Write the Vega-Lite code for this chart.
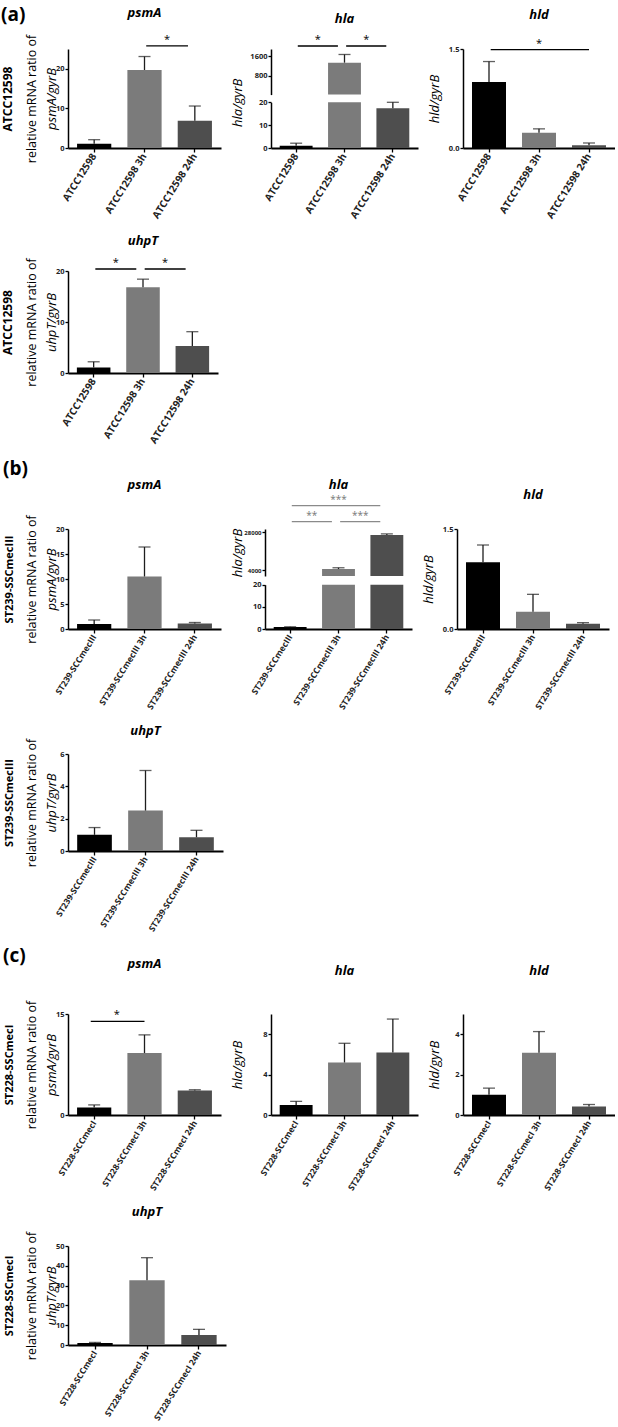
{
  "$schema": "https://vega.github.io/schema/vega-lite/v6.json",
  "padding": {"left": 1, "top": 5, "right": 0, "bottom": 0},
  "spacing": 14,
  "datasets": {
    "bars": [
      {"set": "a", "gene": "psmA", "sample": "ATCC12598", "group": "control", "mean": 1.1, "upper": 2.1},
      {"set": "a", "gene": "psmA", "sample": "ATCC12598 3h", "group": "3h", "mean": 19.7, "upper": 23.1},
      {"set": "a", "gene": "psmA", "sample": "ATCC12598 24h", "group": "24h", "mean": 6.9, "upper": 10.6},
      {"set": "a", "gene": "hla", "sample": "ATCC12598", "group": "control", "mean": 1.0, "upper": 2.1},
      {"set": "a", "gene": "hla", "sample": "ATCC12598 3h", "group": "3h", "mean": 1337, "upper": 1667},
      {"set": "a", "gene": "hla", "sample": "ATCC12598 24h", "group": "24h", "mean": 17.4, "upper": 20},
      {"set": "a", "gene": "hld", "sample": "ATCC12598", "group": "control", "mean": 1.0, "upper": 1.31},
      {"set": "a", "gene": "hld", "sample": "ATCC12598 3h", "group": "3h", "mean": 0.23, "upper": 0.29},
      {"set": "a", "gene": "hld", "sample": "ATCC12598 24h", "group": "24h", "mean": 0.04, "upper": 0.076},
      {"set": "a", "gene": "uhpT", "sample": "ATCC12598", "group": "control", "mean": 1.1, "upper": 2.2},
      {"set": "a", "gene": "uhpT", "sample": "ATCC12598 3h", "group": "3h", "mean": 16.8, "upper": 18.4},
      {"set": "a", "gene": "uhpT", "sample": "ATCC12598 24h", "group": "24h", "mean": 5.3, "upper": 8.1},
      {"set": "b", "gene": "psmA", "sample": "ST239-SCCmecIII", "group": "control", "mean": 1.0, "upper": 1.8},
      {"set": "b", "gene": "psmA", "sample": "ST239-SCCmecIII 3h", "group": "3h", "mean": 10.5, "upper": 16.4},
      {"set": "b", "gene": "psmA", "sample": "ST239-SCCmecIII 24h", "group": "24h", "mean": 1.1, "upper": 1.3},
      {"set": "b", "gene": "hla", "sample": "ST239-SCCmecIII", "group": "control", "mean": 0.9, "upper": 1.0},
      {"set": "b", "gene": "hla", "sample": "ST239-SCCmecIII 3h", "group": "3h", "mean": 4800, "upper": 5600},
      {"set": "b", "gene": "hla", "sample": "ST239-SCCmecIII 24h", "group": "24h", "mean": 26300, "upper": 27000},
      {"set": "b", "gene": "hld", "sample": "ST239-SCCmecIII", "group": "control", "mean": 1.0, "upper": 1.26},
      {"set": "b", "gene": "hld", "sample": "ST239-SCCmecIII 3h", "group": "3h", "mean": 0.26, "upper": 0.52},
      {"set": "b", "gene": "hld", "sample": "ST239-SCCmecIII 24h", "group": "24h", "mean": 0.08, "upper": 0.095},
      {"set": "b", "gene": "uhpT", "sample": "ST239-SCCmecIII", "group": "control", "mean": 1.0, "upper": 1.45},
      {"set": "b", "gene": "uhpT", "sample": "ST239-SCCmecIII 3h", "group": "3h", "mean": 2.5, "upper": 4.98},
      {"set": "b", "gene": "uhpT", "sample": "ST239-SCCmecIII 24h", "group": "24h", "mean": 0.85, "upper": 1.28},
      {"set": "c", "gene": "psmA", "sample": "ST228-SCCmecI", "group": "control", "mean": 1.1, "upper": 1.5},
      {"set": "c", "gene": "psmA", "sample": "ST228-SCCmecI 3h", "group": "3h", "mean": 9.2, "upper": 11.9},
      {"set": "c", "gene": "psmA", "sample": "ST228-SCCmecI 24h", "group": "24h", "mean": 3.65, "upper": 3.75},
      {"set": "c", "gene": "hla", "sample": "ST228-SCCmecI", "group": "control", "mean": 1.0, "upper": 1.35},
      {"set": "c", "gene": "hla", "sample": "ST228-SCCmecI 3h", "group": "3h", "mean": 5.2, "upper": 7.1},
      {"set": "c", "gene": "hla", "sample": "ST228-SCCmecI 24h", "group": "24h", "mean": 6.2, "upper": 9.5},
      {"set": "c", "gene": "hld", "sample": "ST228-SCCmecI", "group": "control", "mean": 1.0, "upper": 1.33},
      {"set": "c", "gene": "hld", "sample": "ST228-SCCmecI 3h", "group": "3h", "mean": 3.08, "upper": 4.13},
      {"set": "c", "gene": "hld", "sample": "ST228-SCCmecI 24h", "group": "24h", "mean": 0.42, "upper": 0.52},
      {"set": "c", "gene": "uhpT", "sample": "ST228-SCCmecI", "group": "control", "mean": 1.0, "upper": 1.3},
      {"set": "c", "gene": "uhpT", "sample": "ST228-SCCmecI 3h", "group": "3h", "mean": 32.7, "upper": 44.1},
      {"set": "c", "gene": "uhpT", "sample": "ST228-SCCmecI 24h", "group": "24h", "mean": 5.0, "upper": 7.9}
    ],
    "sig": [
      {"set": "a", "gene": "psmA", "from": "ATCC12598 3h", "to": "ATCC12598 24h", "y": 25.8, "star": "*"},
      {"set": "a", "gene": "hla", "from": "ATCC12598", "to": "ATCC12598 3h", "y": 2010, "star": "*"},
      {"set": "a", "gene": "hla", "from": "ATCC12598 3h", "to": "ATCC12598 24h", "y": 2010, "star": "*"},
      {"set": "a", "gene": "hld", "from": "ATCC12598", "to": "ATCC12598 24h", "y": 1.49, "star": "*"},
      {"set": "a", "gene": "uhpT", "from": "ATCC12598", "to": "ATCC12598 3h", "y": 20.4, "star": "*"},
      {"set": "a", "gene": "uhpT", "from": "ATCC12598 3h", "to": "ATCC12598 24h", "y": 20.4, "star": "*"},
      {"set": "b", "gene": "hla", "from": "ST239-SCCmecIII", "to": "ST239-SCCmecIII 3h", "y": 34700, "star": "**"},
      {"set": "b", "gene": "hla", "from": "ST239-SCCmecIII 3h", "to": "ST239-SCCmecIII 24h", "y": 34700, "star": "***"},
      {"set": "b", "gene": "hla", "from": "ST239-SCCmecIII", "to": "ST239-SCCmecIII 24h", "y": 44800, "star": "***"},
      {"set": "c", "gene": "psmA", "from": "ST228-SCCmecI", "to": "ST228-SCCmecI 3h", "y": 13.9, "star": "*"}
    ]
  },
  "vconcat": [
    {
      "title": {"text": "(a)", "anchor": "start", "frame": "bounds", "fontSize": 19, "fontStyle": "normal", "offset": -18},
      "spacing": 10,
      "hconcat": [
        {
          "width": 153, "height": 99,
          "title": {"text": "psmA", "offset": 14},
          "resolve": {"axis": {"y": "independent"}},
          "layer": [
            {"layer": [
              {"data": {"name": "bars"}, "transform": [{"filter": "datum.set == 'a' && datum.gene == 'psmA'"}],
               "mark": "bar",
               "encoding": {
                 "x": {"field": "sample", "type": "nominal", "title": null, "scale": {"domain": ["ATCC12598", "ATCC12598 3h", "ATCC12598 24h"], "paddingInner": 0.32, "paddingOuter": 0.18}},
                 "y": {"field": "mean", "type": "quantitative", "scale": {"domain": [0, 25], "nice": false}, "axis": {"orient": "left", "values": [0, 5, 10, 15, 20, 25], "labelOverlap": false, "title": "psmA/gyrB", "minExtent": 10, "maxExtent": 10, "titlePadding": 0}},
                 "color": {"field": "group", "type": "nominal", "legend": null, "scale": {"domain": ["control", "3h", "24h"], "range": ["#000000", "#7b7b7b", "#4e4e4e"]}}}},
              {"data": {"name": "sig"}, "transform": [{"filter": "datum.set == 'a' && datum.gene == 'psmA'"}],
               "mark": {"type": "rule", "color": "#000", "strokeWidth": 1.4},
               "encoding": {"x": {"field": "from", "type": "nominal", "bandPosition": 0.55}, "x2": {"field": "to", "bandPosition": 0.3}, "y": {"field": "y", "type": "quantitative"}}},
              {"data": {"name": "sig"}, "transform": [{"filter": "datum.set == 'a' && datum.gene == 'psmA'"}],
               "mark": {"type": "text", "baseline": "bottom", "dy": -1, "fontSize": 11},
               "encoding": {"x": {"field": "from", "type": "nominal", "bandPosition": 1.16}, "y": {"field": "y", "type": "quantitative"}, "text": {"field": "star"}}}
            ]},
            {"data": {"name": "bars"}, "transform": [{"filter": "datum.set == 'a' && datum.gene == 'psmA'"}],
             "mark": {"type": "rule", "color": "#1e1e1e", "strokeWidth": 1.3},
             "encoding": {"x": {"field": "sample", "type": "nominal"},
               "y": {"field": "mean", "type": "quantitative", "axis": {"orient": "left", "title": "relative mRNA ratio of", "labels": false, "ticks": false, "domain": false, "minExtent": 0, "maxExtent": 0, "titlePadding": 30, "titleFontStyle": "normal", "titleFontSize": 12.5}},
               "y2": {"field": "upper"}}},
            {"data": {"name": "bars"}, "transform": [{"filter": "datum.set == 'a' && datum.gene == 'psmA'"}],
             "mark": {"type": "tick", "color": "#1e1e1e", "thickness": 1.3, "size": 12},
             "encoding": {"x": {"field": "sample", "type": "nominal"},
               "y": {"field": "upper", "type": "quantitative", "axis": {"orient": "left", "title": "ATCC12598", "labels": false, "ticks": false, "domain": false, "minExtent": 0, "maxExtent": 0, "titlePadding": 54, "titleFontStyle": "normal", "titleFontWeight": "bold", "titleFontSize": 12}}}}
          ]
        },
        {
          "width": 147, "height": 99,
          "title": {"text": "hla", "offset": 8},
          "resolve": {"scale": {"y": "independent"}},
          "layer": [
            {"layer": [
              {"data": {"name": "bars"}, "transform": [{"filter": "datum.set == 'a' && datum.gene == 'hla'"}],
               "mark": "bar",
               "encoding": {
                 "x": {"field": "sample", "type": "nominal", "title": null, "scale": {"domain": ["ATCC12598", "ATCC12598 3h", "ATCC12598 24h"], "paddingInner": 0.32, "paddingOuter": 0.18}},
                 "y": {"field": "mean", "type": "quantitative", "scale": {"domain": [0, 20], "range": [99, 53.3], "clamp": true, "nice": false}, "axis": {"orient": "left", "values": [0, 5, 10, 15, 20], "labelOverlap": false, "title": "hla/gyrB", "titleAnchor": "end", "titleAlign": "center", "titlePadding": 13}},
                 "color": {"field": "group", "type": "nominal", "legend": null, "scale": {"domain": ["control", "3h", "24h"], "range": ["#000000", "#7b7b7b", "#4e4e4e"]}}}},
              {"data": {"name": "bars"}, "transform": [{"filter": "datum.set == 'a' && datum.gene == 'hla' && datum.mean <= 20"}],
               "mark": {"type": "rule", "color": "#1e1e1e", "strokeWidth": 1.3},
               "encoding": {"x": {"field": "sample", "type": "nominal"}, "y": {"field": "mean", "type": "quantitative"}, "y2": {"field": "upper"}}},
              {"data": {"name": "bars"}, "transform": [{"filter": "datum.set == 'a' && datum.gene == 'hla' && datum.mean <= 20"}],
               "mark": {"type": "tick", "color": "#1e1e1e", "thickness": 1.3, "size": 12},
               "encoding": {"x": {"field": "sample", "type": "nominal"}, "y": {"field": "upper", "type": "quantitative"}}}
            ]},
            {"layer": [
              {"data": {"name": "bars"}, "transform": [{"filter": "datum.set == 'a' && datum.gene == 'hla' && datum.mean > 20"}],
               "mark": "bar",
               "encoding": {
                 "x": {"field": "sample", "type": "nominal", "title": null, "scale": {"domain": ["ATCC12598", "ATCC12598 3h", "ATCC12598 24h"], "paddingInner": 0.32, "paddingOuter": 0.18}},
                 "y": {"field": "mean", "type": "quantitative", "scale": {"domain": [50, 1888], "range": [45.6, 0], "nice": false, "zero": false}, "axis": {"orient": "left", "values": [800, 1600], "format": "d", "labelOverlap": false, "title": null}},
                 "y2": {"datum": 50},
                 "color": {"field": "group", "type": "nominal", "legend": null, "scale": {"domain": ["control", "3h", "24h"], "range": ["#000000", "#7b7b7b", "#4e4e4e"]}}}},
              {"data": {"name": "bars"}, "transform": [{"filter": "datum.set == 'a' && datum.gene == 'hla' && datum.mean > 20"}],
               "mark": {"type": "rule", "color": "#1e1e1e", "strokeWidth": 1.3},
               "encoding": {"x": {"field": "sample", "type": "nominal"}, "y": {"field": "mean", "type": "quantitative"}, "y2": {"field": "upper"}}},
              {"data": {"name": "bars"}, "transform": [{"filter": "datum.set == 'a' && datum.gene == 'hla' && datum.mean > 20"}],
               "mark": {"type": "tick", "color": "#1e1e1e", "thickness": 1.3, "size": 12},
               "encoding": {"x": {"field": "sample", "type": "nominal"}, "y": {"field": "upper", "type": "quantitative"}}},
              {"data": {"name": "sig"}, "transform": [{"filter": "datum.set == 'a' && datum.gene == 'hla'"}],
               "mark": {"type": "rule", "color": "#000", "strokeWidth": 1.4},
               "encoding": {"x": {"field": "from", "type": "nominal", "bandPosition": 0.55}, "x2": {"field": "to", "bandPosition": 0.3}, "y": {"field": "y", "type": "quantitative"}}},
              {"data": {"name": "sig"}, "transform": [{"filter": "datum.set == 'a' && datum.gene == 'hla'"}],
               "mark": {"type": "text", "baseline": "bottom", "dy": -1, "fontSize": 11},
               "encoding": {"x": {"field": "from", "type": "nominal", "bandPosition": 1.16}, "y": {"field": "y", "type": "quantitative"}, "text": {"field": "star"}}}
            ]}
          ]
        },
        {
          "width": 152, "height": 99,
          "title": {"text": "hld", "offset": 16},
          "layer": [
            {"data": {"name": "bars"}, "transform": [{"filter": "datum.set == 'a' && datum.gene == 'hld'"}],
             "mark": "bar",
             "encoding": {
               "x": {"field": "sample", "type": "nominal", "title": null, "scale": {"domain": ["ATCC12598", "ATCC12598 3h", "ATCC12598 24h"], "paddingInner": 0.32, "paddingOuter": 0.18}},
               "y": {"field": "mean", "type": "quantitative", "scale": {"domain": [0, 1.5], "nice": false}, "axis": {"values": [0, 0.5, 1, 1.5], "format": ".1f", "labelOverlap": false, "title": "hld/gyrB", "titlePadding": 8}},
               "color": {"field": "group", "type": "nominal", "legend": null, "scale": {"domain": ["control", "3h", "24h"], "range": ["#000000", "#7b7b7b", "#4e4e4e"]}}}},
            {"data": {"name": "bars"}, "transform": [{"filter": "datum.set == 'a' && datum.gene == 'hld'"}],
             "mark": {"type": "rule", "color": "#1e1e1e", "strokeWidth": 1.3},
             "encoding": {"x": {"field": "sample", "type": "nominal"}, "y": {"field": "mean", "type": "quantitative"}, "y2": {"field": "upper"}}},
            {"data": {"name": "bars"}, "transform": [{"filter": "datum.set == 'a' && datum.gene == 'hld'"}],
             "mark": {"type": "tick", "color": "#1e1e1e", "thickness": 1.3, "size": 12},
             "encoding": {"x": {"field": "sample", "type": "nominal"}, "y": {"field": "upper", "type": "quantitative"}}},
            {"data": {"name": "sig"}, "transform": [{"filter": "datum.set == 'a' && datum.gene == 'hld'"}],
             "mark": {"type": "rule", "color": "#000", "strokeWidth": 1.4},
             "encoding": {"x": {"field": "from", "type": "nominal", "bandPosition": 0.55}, "x2": {"field": "to", "bandPosition": 0.5}, "y": {"field": "y", "type": "quantitative"}}},
            {"data": {"name": "sig"}, "transform": [{"filter": "datum.set == 'a' && datum.gene == 'hld'"}],
             "mark": {"type": "text", "baseline": "bottom", "dy": -1, "fontSize": 11},
             "encoding": {"x": {"datum": "ATCC12598 3h", "type": "nominal"}, "y": {"field": "y", "type": "quantitative"}, "text": {"field": "star"}}}
          ]
        }
      ]
    },
    {
      "width": 150, "height": 102,
      "title": {"text": "uhpT", "offset": 9},
      "resolve": {"axis": {"y": "independent"}},
      "layer": [
        {"layer": [
          {"data": {"name": "bars"}, "transform": [{"filter": "datum.set == 'a' && datum.gene == 'uhpT'"}],
           "mark": "bar",
           "encoding": {
             "x": {"field": "sample", "type": "nominal", "title": null, "scale": {"domain": ["ATCC12598", "ATCC12598 3h", "ATCC12598 24h"], "paddingInner": 0.32, "paddingOuter": 0.18}},
             "y": {"field": "mean", "type": "quantitative", "scale": {"domain": [0, 20], "nice": false}, "axis": {"orient": "left", "values": [0, 5, 10, 15, 20], "labelOverlap": false, "title": "uhpT/gyrB", "minExtent": 10, "maxExtent": 10, "titlePadding": 0}},
             "color": {"field": "group", "type": "nominal", "legend": null, "scale": {"domain": ["control", "3h", "24h"], "range": ["#000000", "#7b7b7b", "#4e4e4e"]}}}},
          {"data": {"name": "sig"}, "transform": [{"filter": "datum.set == 'a' && datum.gene == 'uhpT'"}],
           "mark": {"type": "rule", "color": "#000", "strokeWidth": 1.4},
           "encoding": {"x": {"field": "from", "type": "nominal", "bandPosition": 0.55}, "x2": {"field": "to", "bandPosition": 0.3}, "y": {"field": "y", "type": "quantitative"}}},
          {"data": {"name": "sig"}, "transform": [{"filter": "datum.set == 'a' && datum.gene == 'uhpT'"}],
           "mark": {"type": "text", "baseline": "bottom", "dy": -1, "fontSize": 11},
           "encoding": {"x": {"field": "from", "type": "nominal", "bandPosition": 1.16}, "y": {"field": "y", "type": "quantitative"}, "text": {"field": "star"}}}
        ]},
        {"data": {"name": "bars"}, "transform": [{"filter": "datum.set == 'a' && datum.gene == 'uhpT'"}],
         "mark": {"type": "rule", "color": "#1e1e1e", "strokeWidth": 1.3},
         "encoding": {"x": {"field": "sample", "type": "nominal"},
           "y": {"field": "mean", "type": "quantitative", "axis": {"orient": "left", "title": "relative mRNA ratio of", "labels": false, "ticks": false, "domain": false, "minExtent": 0, "maxExtent": 0, "titlePadding": 30, "titleFontStyle": "normal", "titleFontSize": 12.5}},
           "y2": {"field": "upper"}}},
        {"data": {"name": "bars"}, "transform": [{"filter": "datum.set == 'a' && datum.gene == 'uhpT'"}],
         "mark": {"type": "tick", "color": "#1e1e1e", "thickness": 1.3, "size": 12},
         "encoding": {"x": {"field": "sample", "type": "nominal"},
           "y": {"field": "upper", "type": "quantitative", "axis": {"orient": "left", "title": "ATCC12598", "labels": false, "ticks": false, "domain": false, "minExtent": 0, "maxExtent": 0, "titlePadding": 54, "titleFontStyle": "normal", "titleFontWeight": "bold", "titleFontSize": 12}}}}
      ]
    },
    {
      "title": {"text": "(b)", "anchor": "start", "frame": "bounds", "fontSize": 19, "fontStyle": "normal", "offset": 0},
      "spacing": 10,
      "hconcat": [
        {
          "width": 153, "height": 100,
          "title": {"text": "psmA", "offset": 23},
          "resolve": {"axis": {"y": "independent"}},
          "layer": [
            {"data": {"name": "bars"}, "transform": [{"filter": "datum.set == 'b' && datum.gene == 'psmA'"}],
             "mark": "bar",
             "encoding": {
               "x": {"field": "sample", "type": "nominal", "title": null, "axis": {"labelFontSize": 8.5}, "scale": {"domain": ["ST239-SCCmecIII", "ST239-SCCmecIII 3h", "ST239-SCCmecIII 24h"], "paddingInner": 0.32, "paddingOuter": 0.18}},
               "y": {"field": "mean", "type": "quantitative", "scale": {"domain": [0, 20], "nice": false}, "axis": {"orient": "left", "values": [0, 5, 10, 15, 20], "labelOverlap": false, "title": "psmA/gyrB", "minExtent": 10, "maxExtent": 10, "titlePadding": 0}},
               "color": {"field": "group", "type": "nominal", "legend": null, "scale": {"domain": ["control", "3h", "24h"], "range": ["#000000", "#7b7b7b", "#4e4e4e"]}}}},
            {"data": {"name": "bars"}, "transform": [{"filter": "datum.set == 'b' && datum.gene == 'psmA'"}],
             "mark": {"type": "rule", "color": "#1e1e1e", "strokeWidth": 1.3},
             "encoding": {"x": {"field": "sample", "type": "nominal"},
               "y": {"field": "mean", "type": "quantitative", "axis": {"orient": "left", "title": "relative mRNA ratio of", "labels": false, "ticks": false, "domain": false, "minExtent": 0, "maxExtent": 0, "titlePadding": 30, "titleFontStyle": "normal", "titleFontSize": 12.5}},
               "y2": {"field": "upper"}}},
            {"data": {"name": "bars"}, "transform": [{"filter": "datum.set == 'b' && datum.gene == 'psmA'"}],
             "mark": {"type": "tick", "color": "#1e1e1e", "thickness": 1.3, "size": 12},
             "encoding": {"x": {"field": "sample", "type": "nominal"},
               "y": {"field": "upper", "type": "quantitative", "axis": {"orient": "left", "title": "ST239-SSCmecIII", "labels": false, "ticks": false, "domain": false, "minExtent": 0, "maxExtent": 0, "titlePadding": 54, "titleFontStyle": "normal", "titleFontWeight": "bold", "titleFontSize": 11}}}}
          ]
        },
        {
          "width": 147, "height": 100,
          "title": {"text": "hla", "offset": 3},
          "resolve": {"scale": {"y": "independent"}},
          "layer": [
            {"layer": [
              {"data": {"name": "bars"}, "transform": [{"filter": "datum.set == 'b' && datum.gene == 'hla'"}],
               "mark": "bar",
               "encoding": {
                 "x": {"field": "sample", "type": "nominal", "title": null, "axis": {"labelFontSize": 8.5}, "scale": {"domain": ["ST239-SCCmecIII", "ST239-SCCmecIII 3h", "ST239-SCCmecIII 24h"], "paddingInner": 0.32, "paddingOuter": 0.18}},
                 "y": {"field": "mean", "type": "quantitative", "scale": {"domain": [0, 20], "range": [100, 55.7], "clamp": true, "nice": false}, "axis": {"orient": "left", "values": [0, 5, 10, 15, 20], "labelOverlap": false, "title": null}},
                 "color": {"field": "group", "type": "nominal", "legend": null, "scale": {"domain": ["control", "3h", "24h"], "range": ["#000000", "#7b7b7b", "#4e4e4e"]}}}},
              {"data": {"name": "bars"}, "transform": [{"filter": "datum.set == 'b' && datum.gene == 'hla' && datum.mean <= 20"}],
               "mark": {"type": "rule", "color": "#1e1e1e", "strokeWidth": 1.3},
               "encoding": {"x": {"field": "sample", "type": "nominal"}, "y": {"field": "mean", "type": "quantitative"}, "y2": {"field": "upper"}}},
              {"data": {"name": "bars"}, "transform": [{"filter": "datum.set == 'b' && datum.gene == 'hla' && datum.mean <= 20"}],
               "mark": {"type": "tick", "color": "#1e1e1e", "thickness": 1.3, "size": 12},
               "encoding": {"x": {"field": "sample", "type": "nominal"}, "y": {"field": "upper", "type": "quantitative"}}}
            ]},
            {"layer": [
              {"data": {"name": "bars"}, "transform": [{"filter": "datum.set == 'b' && datum.gene == 'hla' && datum.mean > 20"}],
               "mark": "bar",
               "encoding": {
                 "x": {"field": "sample", "type": "nominal", "title": null, "axis": {"labelFontSize": 8.5}, "scale": {"domain": ["ST239-SCCmecIII", "ST239-SCCmecIII 3h", "ST239-SCCmecIII 24h"], "paddingInner": 0.32, "paddingOuter": 0.18}},
                 "y": {"field": "mean", "type": "quantitative", "scale": {"domain": [400, 30084], "range": [47, 0], "nice": false, "zero": false}, "axis": {"orient": "left", "values": [4000, 8000, 12000, 16000, 20000, 24000, 28000], "format": "d", "labelOverlap": false, "labelFontSize": 6, "title": "hla/gyrB", "titlePadding": 7}},
                 "y2": {"datum": 400},
                 "color": {"field": "group", "type": "nominal", "legend": null, "scale": {"domain": ["control", "3h", "24h"], "range": ["#000000", "#7b7b7b", "#4e4e4e"]}}}},
              {"data": {"name": "bars"}, "transform": [{"filter": "datum.set == 'b' && datum.gene == 'hla' && datum.mean > 20"}],
               "mark": {"type": "rule", "color": "#1e1e1e", "strokeWidth": 1.3},
               "encoding": {"x": {"field": "sample", "type": "nominal"}, "y": {"field": "mean", "type": "quantitative"}, "y2": {"field": "upper"}}},
              {"data": {"name": "bars"}, "transform": [{"filter": "datum.set == 'b' && datum.gene == 'hla' && datum.mean > 20"}],
               "mark": {"type": "tick", "color": "#1e1e1e", "thickness": 1.3, "size": 12},
               "encoding": {"x": {"field": "sample", "type": "nominal"}, "y": {"field": "upper", "type": "quantitative"}}},
              {"data": {"name": "sig"}, "transform": [{"filter": "datum.set == 'b' && datum.gene == 'hla'"}],
               "mark": {"type": "rule", "color": "#8a8a8a", "strokeWidth": 1.3},
               "encoding": {"x": {"field": "from", "type": "nominal", "bandPosition": 0.55}, "x2": {"field": "to", "bandPosition": 0.3}, "y": {"field": "y", "type": "quantitative"}}},
              {"data": {"name": "sig"}, "transform": [{"filter": "datum.set == 'b' && datum.gene == 'hla' && datum.y < 40000"}],
               "mark": {"type": "text", "baseline": "bottom", "dy": -1, "fontSize": 10, "color": "#777"},
               "encoding": {"x": {"field": "from", "type": "nominal", "bandPosition": 1.16}, "y": {"field": "y", "type": "quantitative"}, "text": {"field": "star"}}},
              {"data": {"name": "sig"}, "transform": [{"filter": "datum.set == 'b' && datum.gene == 'hla' && datum.y > 40000"}],
               "mark": {"type": "text", "baseline": "bottom", "dy": -1, "fontSize": 10, "color": "#777"},
               "encoding": {"x": {"datum": "ST239-SCCmecIII 3h", "type": "nominal"}, "y": {"field": "y", "type": "quantitative"}, "text": {"field": "star"}}}
            ]}
          ]
        },
        {
          "width": 152, "height": 100,
          "title": {"text": "hld", "offset": 23},
          "layer": [
            {"data": {"name": "bars"}, "transform": [{"filter": "datum.set == 'b' && datum.gene == 'hld'"}],
             "mark": "bar",
             "encoding": {
               "x": {"field": "sample", "type": "nominal", "title": null, "axis": {"labelFontSize": 8.5}, "scale": {"domain": ["ST239-SCCmecIII", "ST239-SCCmecIII 3h", "ST239-SCCmecIII 24h"], "paddingInner": 0.32, "paddingOuter": 0.18}},
               "y": {"field": "mean", "type": "quantitative", "scale": {"domain": [0, 1.5], "nice": false}, "axis": {"values": [0, 0.5, 1, 1.5], "format": ".1f", "labelOverlap": false, "title": "hld/gyrB", "titlePadding": 8}},
               "color": {"field": "group", "type": "nominal", "legend": null, "scale": {"domain": ["control", "3h", "24h"], "range": ["#000000", "#7b7b7b", "#4e4e4e"]}}}},
            {"data": {"name": "bars"}, "transform": [{"filter": "datum.set == 'b' && datum.gene == 'hld'"}],
             "mark": {"type": "rule", "color": "#1e1e1e", "strokeWidth": 1.3},
             "encoding": {"x": {"field": "sample", "type": "nominal"}, "y": {"field": "mean", "type": "quantitative"}, "y2": {"field": "upper"}}},
            {"data": {"name": "bars"}, "transform": [{"filter": "datum.set == 'b' && datum.gene == 'hld'"}],
             "mark": {"type": "tick", "color": "#1e1e1e", "thickness": 1.3, "size": 12},
             "encoding": {"x": {"field": "sample", "type": "nominal"}, "y": {"field": "upper", "type": "quantitative"}}}
          ]
        }
      ]
    },
    {
      "width": 155, "height": 97,
      "title": {"text": "uhpT", "offset": 0},
      "resolve": {"axis": {"y": "independent"}},
      "layer": [
        {"data": {"name": "bars"}, "transform": [{"filter": "datum.set == 'b' && datum.gene == 'uhpT'"}],
         "mark": "bar",
         "encoding": {
           "x": {"field": "sample", "type": "nominal", "title": null, "axis": {"labelFontSize": 8.5}, "scale": {"domain": ["ST239-SCCmecIII", "ST239-SCCmecIII 3h", "ST239-SCCmecIII 24h"], "paddingInner": 0.32, "paddingOuter": 0.18}},
           "y": {"field": "mean", "type": "quantitative", "scale": {"domain": [0, 6], "nice": false}, "axis": {"orient": "left", "values": [0, 2, 4, 6], "labelOverlap": false, "title": "uhpT/gyrB", "minExtent": 10, "maxExtent": 10, "titlePadding": 0}},
           "color": {"field": "group", "type": "nominal", "legend": null, "scale": {"domain": ["control", "3h", "24h"], "range": ["#000000", "#7b7b7b", "#4e4e4e"]}}}},
        {"data": {"name": "bars"}, "transform": [{"filter": "datum.set == 'b' && datum.gene == 'uhpT'"}],
         "mark": {"type": "rule", "color": "#1e1e1e", "strokeWidth": 1.3},
         "encoding": {"x": {"field": "sample", "type": "nominal"},
           "y": {"field": "mean", "type": "quantitative", "axis": {"orient": "left", "title": "relative mRNA ratio of", "labels": false, "ticks": false, "domain": false, "minExtent": 0, "maxExtent": 0, "titlePadding": 30, "titleFontStyle": "normal", "titleFontSize": 12.5}},
           "y2": {"field": "upper"}}},
        {"data": {"name": "bars"}, "transform": [{"filter": "datum.set == 'b' && datum.gene == 'uhpT'"}],
         "mark": {"type": "tick", "color": "#1e1e1e", "thickness": 1.3, "size": 12},
         "encoding": {"x": {"field": "sample", "type": "nominal"},
           "y": {"field": "upper", "type": "quantitative", "axis": {"orient": "left", "title": "ST239-SSCmecIII", "labels": false, "ticks": false, "domain": false, "minExtent": 0, "maxExtent": 0, "titlePadding": 54, "titleFontStyle": "normal", "titleFontWeight": "bold", "titleFontSize": 11}}}}
      ]
    },
    {
      "title": {"text": "(c)", "anchor": "start", "frame": "bounds", "fontSize": 19, "fontStyle": "normal", "offset": -8},
      "spacing": 10,
      "hconcat": [
        {
          "width": 153, "height": 101,
          "title": {"text": "psmA", "offset": 29},
          "resolve": {"axis": {"y": "independent"}},
          "layer": [
            {"layer": [
              {"data": {"name": "bars"}, "transform": [{"filter": "datum.set == 'c' && datum.gene == 'psmA'"}],
               "mark": "bar",
               "encoding": {
                 "x": {"field": "sample", "type": "nominal", "title": null, "axis": {"labelFontSize": 8.5}, "scale": {"domain": ["ST228-SCCmecI", "ST228-SCCmecI 3h", "ST228-SCCmecI 24h"], "paddingInner": 0.32, "paddingOuter": 0.18}},
                 "y": {"field": "mean", "type": "quantitative", "scale": {"domain": [0, 15], "nice": false}, "axis": {"orient": "left", "values": [0, 5, 10, 15], "labelOverlap": false, "title": "psmA/gyrB", "minExtent": 10, "maxExtent": 10, "titlePadding": 0}},
                 "color": {"field": "group", "type": "nominal", "legend": null, "scale": {"domain": ["control", "3h", "24h"], "range": ["#000000", "#7b7b7b", "#4e4e4e"]}}}},
              {"data": {"name": "sig"}, "transform": [{"filter": "datum.set == 'c' && datum.gene == 'psmA'"}],
               "mark": {"type": "rule", "color": "#000", "strokeWidth": 1.4},
               "encoding": {"x": {"field": "from", "type": "nominal", "bandPosition": 0.4}, "x2": {"field": "to", "bandPosition": 0.5}, "y": {"field": "y", "type": "quantitative"}}},
              {"data": {"name": "sig"}, "transform": [{"filter": "datum.set == 'c' && datum.gene == 'psmA'"}],
               "mark": {"type": "text", "baseline": "bottom", "dy": -1, "fontSize": 11, "color": "#000"},
               "encoding": {"x": {"field": "from", "type": "nominal", "bandPosition": 1.16}, "y": {"field": "y", "type": "quantitative"}, "text": {"field": "star"}}}
            ]},
            {"data": {"name": "bars"}, "transform": [{"filter": "datum.set == 'c' && datum.gene == 'psmA'"}],
             "mark": {"type": "rule", "color": "#1e1e1e", "strokeWidth": 1.3},
             "encoding": {"x": {"field": "sample", "type": "nominal"},
               "y": {"field": "mean", "type": "quantitative", "axis": {"orient": "left", "title": "relative mRNA ratio of", "labels": false, "ticks": false, "domain": false, "minExtent": 0, "maxExtent": 0, "titlePadding": 30, "titleFontStyle": "normal", "titleFontSize": 12.5}},
               "y2": {"field": "upper"}}},
            {"data": {"name": "bars"}, "transform": [{"filter": "datum.set == 'c' && datum.gene == 'psmA'"}],
             "mark": {"type": "tick", "color": "#1e1e1e", "thickness": 1.3, "size": 12},
             "encoding": {"x": {"field": "sample", "type": "nominal"},
               "y": {"field": "upper", "type": "quantitative", "axis": {"orient": "left", "title": "ST228-SSCmecI", "labels": false, "ticks": false, "domain": false, "minExtent": 0, "maxExtent": 0, "titlePadding": 54, "titleFontStyle": "normal", "titleFontWeight": "bold", "titleFontSize": 11}}}}
          ]
        },
        {
          "width": 147, "height": 101,
          "title": {"text": "hla", "offset": 36},
          "layer": [
            {"data": {"name": "bars"}, "transform": [{"filter": "datum.set == 'c' && datum.gene == 'hla'"}],
             "mark": "bar",
             "encoding": {
               "x": {"field": "sample", "type": "nominal", "title": null, "axis": {"labelFontSize": 8.5}, "scale": {"domain": ["ST228-SCCmecI", "ST228-SCCmecI 3h", "ST228-SCCmecI 24h"], "paddingInner": 0.32, "paddingOuter": 0.18}},
               "y": {"field": "mean", "type": "quantitative", "scale": {"domain": [0, 10], "nice": false}, "axis": {"values": [0, 2, 4, 6, 8, 10], "labelOverlap": false, "title": "hla/gyrB", "titlePadding": 13}},
               "color": {"field": "group", "type": "nominal", "legend": null, "scale": {"domain": ["control", "3h", "24h"], "range": ["#000000", "#7b7b7b", "#4e4e4e"]}}}},
            {"data": {"name": "bars"}, "transform": [{"filter": "datum.set == 'c' && datum.gene == 'hla'"}],
             "mark": {"type": "rule", "color": "#1e1e1e", "strokeWidth": 1.3},
             "encoding": {"x": {"field": "sample", "type": "nominal"}, "y": {"field": "mean", "type": "quantitative"}, "y2": {"field": "upper"}}},
            {"data": {"name": "bars"}, "transform": [{"filter": "datum.set == 'c' && datum.gene == 'hla'"}],
             "mark": {"type": "tick", "color": "#1e1e1e", "thickness": 1.3, "size": 12},
             "encoding": {"x": {"field": "sample", "type": "nominal"}, "y": {"field": "upper", "type": "quantitative"}}}
          ]
        },
        {
          "width": 152, "height": 101,
          "title": {"text": "hld", "offset": 36},
          "layer": [
            {"data": {"name": "bars"}, "transform": [{"filter": "datum.set == 'c' && datum.gene == 'hld'"}],
             "mark": "bar",
             "encoding": {
               "x": {"field": "sample", "type": "nominal", "title": null, "axis": {"labelFontSize": 8.5}, "scale": {"domain": ["ST228-SCCmecI", "ST228-SCCmecI 3h", "ST228-SCCmecI 24h"], "paddingInner": 0.32, "paddingOuter": 0.18}},
               "y": {"field": "mean", "type": "quantitative", "scale": {"domain": [0, 5], "nice": false}, "axis": {"values": [0, 1, 2, 3, 4, 5], "labelOverlap": false, "title": "hld/gyrB", "titlePadding": 8}},
               "color": {"field": "group", "type": "nominal", "legend": null, "scale": {"domain": ["control", "3h", "24h"], "range": ["#000000", "#7b7b7b", "#4e4e4e"]}}}},
            {"data": {"name": "bars"}, "transform": [{"filter": "datum.set == 'c' && datum.gene == 'hld'"}],
             "mark": {"type": "rule", "color": "#1e1e1e", "strokeWidth": 1.3},
             "encoding": {"x": {"field": "sample", "type": "nominal"}, "y": {"field": "mean", "type": "quantitative"}, "y2": {"field": "upper"}}},
            {"data": {"name": "bars"}, "transform": [{"filter": "datum.set == 'c' && datum.gene == 'hld'"}],
             "mark": {"type": "tick", "color": "#1e1e1e", "thickness": 1.3, "size": 12},
             "encoding": {"x": {"field": "sample", "type": "nominal"}, "y": {"field": "upper", "type": "quantitative"}}}
          ]
        }
      ]
    },
    {
      "width": 158, "height": 99,
      "title": {"text": "uhpT", "offset": 12},
      "resolve": {"axis": {"y": "independent"}},
      "layer": [
        {"data": {"name": "bars"}, "transform": [{"filter": "datum.set == 'c' && datum.gene == 'uhpT'"}],
         "mark": "bar",
         "encoding": {
           "x": {"field": "sample", "type": "nominal", "title": null, "axis": {"labelFontSize": 8.5}, "scale": {"domain": ["ST228-SCCmecI", "ST228-SCCmecI 3h", "ST228-SCCmecI 24h"], "paddingInner": 0.32, "paddingOuter": 0.18}},
           "y": {"field": "mean", "type": "quantitative", "scale": {"domain": [0, 50], "nice": false}, "axis": {"orient": "left", "values": [0, 10, 20, 30, 40, 50], "labelOverlap": false, "title": "uhpT/gyrB", "minExtent": 10, "maxExtent": 10, "titlePadding": 0}},
           "color": {"field": "group", "type": "nominal", "legend": null, "scale": {"domain": ["control", "3h", "24h"], "range": ["#000000", "#7b7b7b", "#4e4e4e"]}}}},
        {"data": {"name": "bars"}, "transform": [{"filter": "datum.set == 'c' && datum.gene == 'uhpT'"}],
         "mark": {"type": "rule", "color": "#1e1e1e", "strokeWidth": 1.3},
         "encoding": {"x": {"field": "sample", "type": "nominal"},
           "y": {"field": "mean", "type": "quantitative", "axis": {"orient": "left", "title": "relative mRNA ratio of", "labels": false, "ticks": false, "domain": false, "minExtent": 0, "maxExtent": 0, "titlePadding": 30, "titleFontStyle": "normal", "titleFontSize": 12.5}},
           "y2": {"field": "upper"}}},
        {"data": {"name": "bars"}, "transform": [{"filter": "datum.set == 'c' && datum.gene == 'uhpT'"}],
         "mark": {"type": "tick", "color": "#1e1e1e", "thickness": 1.3, "size": 12},
         "encoding": {"x": {"field": "sample", "type": "nominal"},
           "y": {"field": "upper", "type": "quantitative", "axis": {"orient": "left", "title": "ST228-SSCmecI", "labels": false, "ticks": false, "domain": false, "minExtent": 0, "maxExtent": 0, "titlePadding": 54, "titleFontStyle": "normal", "titleFontWeight": "bold", "titleFontSize": 11}}}}
      ]
    }
  ],
  "config": {
    "font": "Open Sans",
    "view": {"stroke": null},
    "axis": {"grid": false, "domainColor": "#000", "domainWidth": 1.5, "tickColor": "#000", "tickWidth": 1.3, "tickSize": 3, "labelFont": "Open Sans", "labelFontWeight": "bold", "labelColor": "#222", "titleFont": "Open Sans", "titleColor": "#000", "titleFontWeight": "normal"},
    "axisY": {"labelFontSize": 7.5, "labelPadding": 1, "titleFontSize": 13, "titleFontStyle": "italic", "minExtent": 14, "maxExtent": 14, "labelOverlap": false},
    "axisX": {"labelAngle": -58, "labelFontSize": 10, "labelPadding": 2, "tickSize": 4, "domainWidth": 1.8},
    "title": {"font": "Open Sans", "fontSize": 13, "fontStyle": "italic", "fontWeight": "bold", "color": "#000", "anchor": "middle", "frame": "group"}
  }
}
